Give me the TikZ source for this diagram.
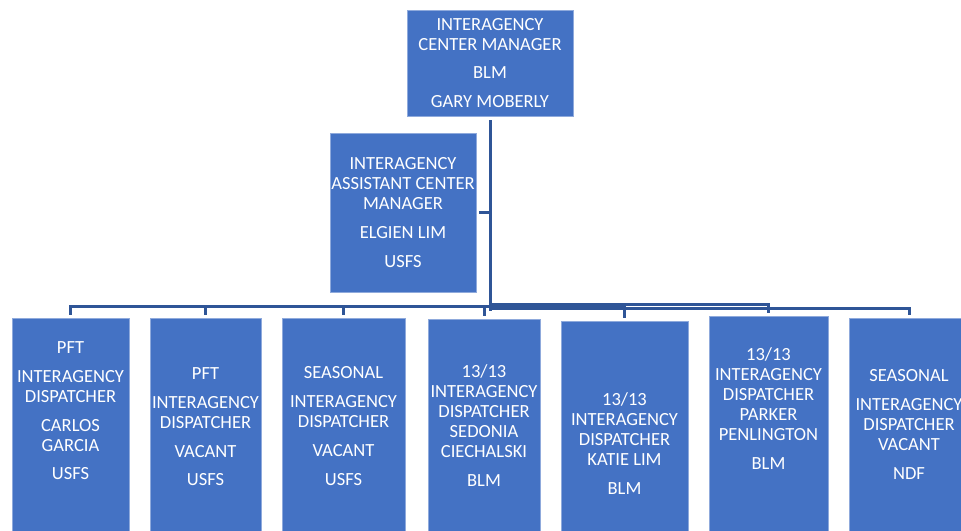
\documentclass[tikz,border=0pt]{standalone}
\usepackage{fontspec}
\setmainfont{Carlito}
\usepackage{tikz}
\definecolor{boxblue}{HTML}{4472C4}
\definecolor{boxedge}{HTML}{8FAADC}
\definecolor{linkblue}{HTML}{2F5597}
\newcommand{\pix}{0.75pt}
\tikzset{every picture/.style={x=0.75pt,y=-0.75pt},
  boxfont/.style={text=white,align=center,font=\fontsize{13.9}{15}\selectfont},
  orgbox/.style={rectangle,fill=boxblue,draw=boxedge,line width=0.6pt,inner sep=0pt,boxfont},
  dispbox/.style={orgbox,anchor=north,minimum height=240*\pix},
  link/.style={draw=linkblue,line width=2.25pt}}

\begin{document}
\begin{tikzpicture}
\path[use as bounding box,clip] (0,0) rectangle (961,531);

\begin{scope}[every node/.style={orgbox}]
\node[minimum width=166*\pix,minimum height=106*\pix] (mgr) at (490,63)
  {INTERAGENCY\\CENTER MANAGER\\[6.5pt]BLM\\[6.5pt]GARY MOBERLY};
\node[minimum width=146*\pix,minimum height=159*\pix] (acm) at (403,212.5)
  {INTERAGENCY\\ASSISTANT CENTER\\MANAGER\\[6.5pt]ELGIEN LIM\\[6.5pt]USFS};
\end{scope}

% dispatcher boxes, cut off at the bottom edge
\node[dispbox,minimum width=117*\pix] (b1) at (70.5,318) {};
\node[dispbox,minimum width=111*\pix] (b2) at (205.5,318) {};
\node[dispbox,minimum width=123*\pix] (b3) at (343.5,318) {};
\node[dispbox,minimum width=112*\pix] (b4) at (484,319) {};
\node[dispbox,minimum width=127*\pix] (b5) at (624.5,321) {};
\node[dispbox,minimum width=119*\pix] (b6) at (768.5,316) {};
\node[dispbox,minimum width=120*\pix] (b7) at (909,318) {};

\begin{scope}[every node/.style={boxfont}]
\node (t1) at (70.5,410.5) {PFT\\[7pt]INTERAGENCY\\DISPATCHER\\[6.5pt]CARLOS\\GARCIA\\[6.5pt]USFS};
\node (t2) at (205.5,426.5) {PFT\\[7pt]INTERAGENCY\\DISPATCHER\\[6.5pt]VACANT\\[6.5pt]USFS};
\node (t3) at (343.5,426) {SEASONAL\\[7pt]INTERAGENCY\\DISPATCHER\\[6.5pt]VACANT\\[6.5pt]USFS};
\node (t4) at (484,425.5) {13/13\\INTERAGENCY\\DISPATCHER\\SEDONIA\\CIECHALSKI\\[7pt]BLM};
\node (t5) at (624.5,443.5) {13/13\\INTERAGENCY\\DISPATCHER\\KATIE LIM\\[7pt]BLM};
\node (t6) at (768.5,408.5) {13/13\\INTERAGENCY\\DISPATCHER\\PARKER\\PENLINGTON\\[7pt]BLM};
\node (t7) at (909,424.5) {SEASONAL\\[6.5pt]INTERAGENCY\\DISPATCHER\\VACANT\\[6.5pt]NDF};
\end{scope}

\coordinate (bus) at (490,306);
\coordinate (busb) at (490,308.5);
\coordinate (busc) at (490,304.5);

\begin{scope}[every path/.style={link}]
\draw[shorten <=3pt] (mgr) -- ([yshift=-1.5pt]busb);
\draw[shorten <=2pt] (acm.east) -- (acm.east -| bus);
\foreach \b in {b1,b2,b3,b4,b5}
  \draw[shorten >=2pt] (bus) -| (\b);
\draw[shorten >=2pt] (busc) -| (b6);
\draw[shorten >=2pt] (busb) -| (b7);
\end{scope}
\end{tikzpicture}
\end{document}
